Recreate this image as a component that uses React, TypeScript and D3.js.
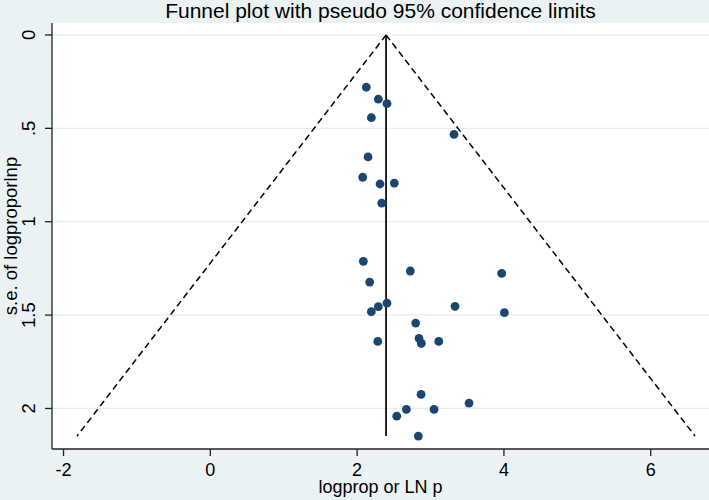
import React from "react";
import * as d3 from "d3";

const studyEffects: number[] = [
  2.125, 2.289, 2.407, 2.194, 3.32, 2.149, 2.076, 2.312, 2.507, 2.335,
  2.085, 2.725, 3.97, 2.171, 2.407, 2.289, 3.334, 2.194, 4.006, 2.798,
  2.843, 2.875, 2.281, 3.112, 2.871, 3.525, 2.671, 3.048, 2.54, 2.834,
];
const studySE: number[] = [
  0.28, 0.344, 0.368, 0.443, 0.532, 0.653, 0.762, 0.798, 0.793, 0.9,
  1.212, 1.264, 1.277, 1.323, 1.436, 1.455, 1.453, 1.482, 1.487, 1.543,
  1.625, 1.652, 1.641, 1.641, 1.925, 1.971, 2.005, 2.005, 2.041, 2.148,
];
const pooledEffect = 2.394;
const xTicks = [-2, 0, 2, 4, 6];
const yTicks = [0, 0.5, 1, 1.5, 2];
const yTickLabels = ["0", ".5", "1", "1.5", "2"];

const W = 709;
const H = 500;
const left = 52;
const right = 709;
const top = 23;
const bottom = 449;

export default function App() {
  const x = d3.scaleLinear().domain([-2.157, 6.794]).range([left, right]);
  const y = d3.scaleLinear().domain([-0.064, 2.217]).range([top, bottom]);
  const maxSE = d3.max(studySE) as number;
  const z = 1.96;
  const line = d3
    .line<[number, number]>()
    .x((d) => x(d[0]))
    .y((d) => y(d[1]));
  const leftLimit: [number, number][] = [
    [pooledEffect, 0],
    [pooledEffect - z * maxSE, maxSE],
  ];
  const rightLimit: [number, number][] = [
    [pooledEffect, 0],
    [pooledEffect + z * maxSE, maxSE],
  ];
  const font = "Arial, 'Liberation Sans', sans-serif";
  return (
    <svg
      width={W}
      height={H}
      style={{ position: "absolute", left: 0, top: 0, display: "block" }}
      fontFamily={font}
    >
      <rect x={0} y={0} width={W} height={H} fill="#eaf2f3" />
      <rect x={left} y={top} width={right - left} height={bottom - top} fill="#ffffff" />
      {yTicks.map((t) => (
        <line key={"g" + t} x1={left} x2={right} y1={y(t)} y2={y(t)} stroke="#e6eef0" strokeWidth={1.2} />
      ))}
      <path d={line(leftLimit) || ""} fill="none" stroke="#000" strokeWidth={1.5} strokeDasharray="6.5,4" />
      <path d={line(rightLimit) || ""} fill="none" stroke="#000" strokeWidth={1.5} strokeDasharray="6.5,4" />
      <line x1={x(pooledEffect)} x2={x(pooledEffect)} y1={y(0)} y2={y(maxSE)} stroke="#000" strokeWidth={1.7} />
      {studyEffects.map((v, i) => (
        <circle key={i} cx={x(v)} cy={y(studySE[i])} r={4.4} fill="#1a476f" />
      ))}
      {/* axes */}
      <line x1={left} x2={left} y1={top} y2={bottom} stroke="#222" strokeWidth={1.3} />
      <line x1={left} x2={right} y1={bottom} y2={bottom} stroke="#222" strokeWidth={1.3} />
      {xTicks.map((t) => (
        <g key={"x" + t}>
          <line x1={x(t)} x2={x(t)} y1={bottom} y2={bottom + 7} stroke="#222" strokeWidth={1.3} />
          <text x={x(t)} y={476} textAnchor="middle" fontSize={18} fill="#000">
            {t}
          </text>
        </g>
      ))}
      {yTicks.map((t, i) => (
        <g key={"y" + t}>
          <line x1={left - 7} x2={left} y1={y(t)} y2={y(t)} stroke="#222" strokeWidth={1.3} />
          <text
            transform={`translate(35,${y(t)}) rotate(-90)`}
            textAnchor="middle"
            fontSize={18.5}
            fill="#000"
          >
            {yTickLabels[i]}
          </text>
        </g>
      ))}
      <text x={(left + right) / 2} y={493} textAnchor="middle" fontSize={18} fill="#000">
        logprop or LN p
      </text>
      <text
        transform={`translate(17,${(top + bottom) / 2}) rotate(-90)`}
        textAnchor="middle"
        fontSize={18.5}
        fill="#000"
      >
        s.e. of logproporlnp
      </text>
      <text x={380.5} y={18} textAnchor="middle" fontSize={21} fill="#000">
        Funnel plot with pseudo 95% confidence limits
      </text>
    </svg>
  );
}
